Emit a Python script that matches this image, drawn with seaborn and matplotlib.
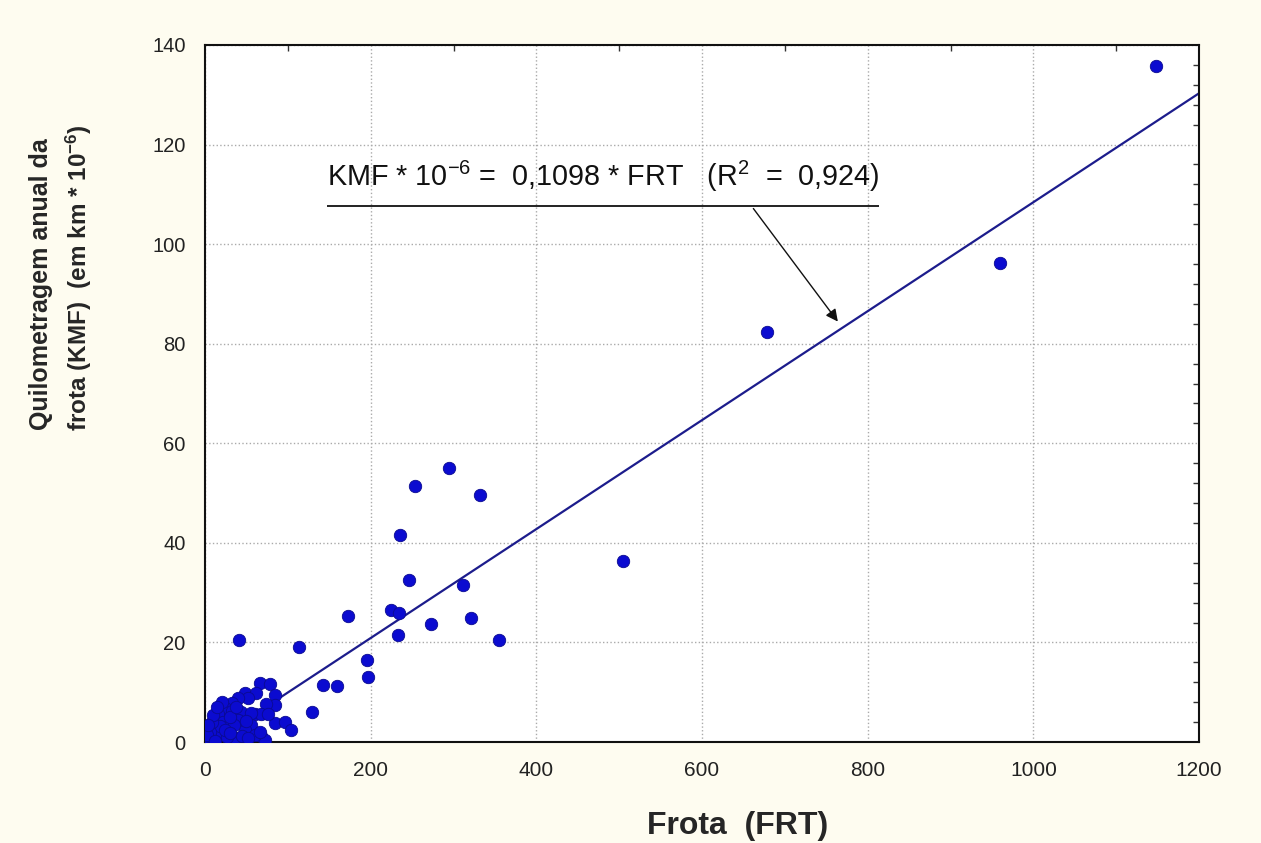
import matplotlib
matplotlib.use("Agg")
import matplotlib.pyplot as plt
import seaborn as sns
import pandas as pd
from matplotlib.ticker import MultipleLocator

# ---- data ----
frota = [1148, 960, 678, 505, 295, 254, 332, 236, 246, 312, 224, 234, 173, 273,
         321, 233, 355, 41, 114, 195, 197, 143, 159, 129, 84, 96, 104, 66, 78,
         84, 84, 74, 60, 68, 48, 32, 16, 68,
         62, 52, 40, 32, 24, 16, 12, 8, 32, 44, 56, 76, 56, 48, 72, 36, 60, 28,
         20, 5, 3, 10, 14, 22, 26, 40, 18, 6, 2, 35, 45, 52, 30, 12, 8, 38, 66,
         20, 10, 4, 14, 24, 30, 50]
kmf = [135.8, 96.3, 82.4, 36.3, 55.1, 51.4, 49.7, 41.6, 32.6, 31.5, 26.6, 25.9,
       25.4, 23.7, 25.0, 21.5, 20.5, 20.5, 19.0, 16.5, 13.0, 11.5, 11.3, 6.1,
       3.9, 4.1, 2.5, 11.9, 11.6, 9.4, 7.4, 7.6, 5.6, 5.6, 9.9, 7.6, 5.2, 1.2,
       9.9, 8.9, 8.9, 7.9, 6.9, 5.6, 4.2, 2.5, 6.2, 6.0, 5.9, 5.6, 3.5, 2.5,
       0.5, 0.9, 1.5, 3.0, 2.0, 1.0, 0.3, 0.6, 1.5, 4.0, 1.0, 4.5, 3.2, 2.0,
       1.5, 3.5, 1.2, 0.8, 5.0, 0.2, 4.0, 7.0, 2.0, 8.0, 5.5, 3.5, 7.0, 2.5,
       1.8, 4.2]
# fitted line as drawn on the chart (end points)
line_x = [0, 1200]
line_y = [-1.0, 130.3]

x_ticks = [0, 200, 400, 600, 800, 1000, 1200]
y_ticks = [0, 20, 40, 60, 80, 100, 120, 140]

pts = pd.DataFrame({"FRT": frota, "KMF": kmf})
fit = pd.DataFrame({"FRT": line_x, "KMF": line_y})

sns.set_style("white")
plt.rcParams["font.family"] = ["Liberation Sans", "DejaVu Sans"]
plt.rcParams["mathtext.fontset"] = "custom"
plt.rcParams["mathtext.rm"] = "Liberation Sans"
plt.rcParams["mathtext.it"] = "Liberation Sans:italic"
plt.rcParams["mathtext.bf"] = "Liberation Sans:bold"

bg = "#FEFCF0"
fig = plt.figure(figsize=(12.61, 8.43), dpi=100, facecolor=bg)
ax = fig.add_axes([205 / 1261, 1 - 742 / 843, 994 / 1261, (742 - 45) / 843])
ax.set_facecolor("white")

sns.lineplot(data=fit, x="FRT", y="KMF", ax=ax, color="#1c1c8c",
             linewidth=1.6, zorder=2)
sns.scatterplot(data=pts, x="FRT", y="KMF", ax=ax, color="#0b0bd0",
                edgecolor="#0a0a90", linewidth=0.6, s=80, zorder=3)

ax.set_xlim(0, 1200)
ax.set_ylim(0, 140)
ax.set_xticks(x_ticks)
ax.set_yticks(y_ticks)
ax.set_xticklabels([str(t) for t in x_ticks], fontsize=15)
ax.set_yticklabels([str(t) for t in y_ticks], fontsize=14.5)
ax.xaxis.set_minor_locator(MultipleLocator(100))
ax.yaxis.set_minor_locator(MultipleLocator(4))
ax.tick_params(which="major", direction="out", length=5, width=1,
               color="#333333", pad=9, labelcolor="#222222")
ax.tick_params(which="minor", direction="in", length=4, width=1,
               color="#333333", top=True, right=True)
ax.grid(True, which="major", linestyle=":", linewidth=1, color="#aaaaaa")
for sp in ax.spines.values():
    sp.set_visible(True)
    sp.set_color("#111111")
    sp.set_linewidth(1.5)

ax.set_xlabel("")
ax.set_ylabel("")
fig.text(738 / 1261, 1 - 826 / 843, "Frota  (FRT)", fontsize=23,
         fontweight="bold", ha="center", va="center")
fig.text(41 / 1261, 1 - 284 / 843, "Quilometragem anual da", fontsize=18,
         fontweight="bold", rotation=90, ha="center", va="center")
fig.text(79 / 1261, 1 - 278 / 843,
         r"frota (KMF)  (em km * 10$\mathbf{^{-6}}$)", fontsize=17.5,
         fontweight="bold", rotation=90, ha="center", va="center")

# equation annotation with underline and arrow
ax.text(147, 110.0,
        r"KMF * 10$^{\mathregular{-6}}$ =  0,1098 * FRT   (R$^{\mathregular{2}}$  =  0,924)",
        fontsize=20.7, ha="left", va="bottom", color="#111111")
ax.plot([147, 814], [107.6, 107.6], color="#111111", linewidth=1.3,
        solid_capstyle="butt")
ax.annotate("", xy=(766, 84.0), xytext=(660, 107.6),
            arrowprops=dict(arrowstyle="-|>", color="#111111", lw=1,
                            mutation_scale=18))

fig.savefig("out.png", dpi=100, facecolor=bg)
